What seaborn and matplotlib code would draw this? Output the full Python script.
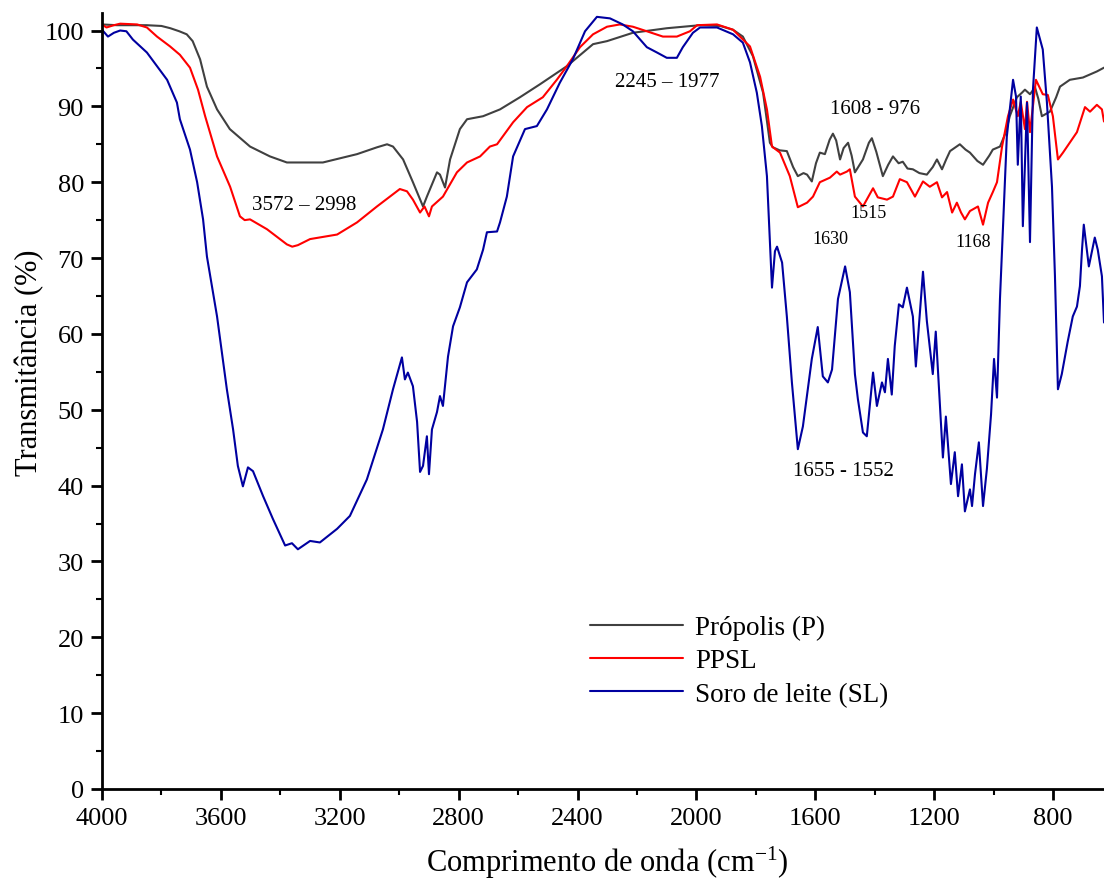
import matplotlib
matplotlib.use("Agg")
import matplotlib.pyplot as plt
import numpy as np
import pandas as pd
import seaborn as sns
from matplotlib.ticker import MultipleLocator

# ---------------- data ----------------
P_wn = [4000, 3950, 3900, 3850, 3800, 3770, 3740, 3715, 3695, 3670, 3647, 3613, 3570, 3502, 3435,
        3378, 3257, 3142, 3075, 3041, 3021, 2987, 2954, 2920, 2907, 2873, 2863, 2846, 2829, 2796,
        2772, 2718, 2661, 2594, 2527, 2436, 2348, 2301, 2214, 2100, 1988, 1920, 1877, 1844, 1810,
        1776, 1753, 1743, 1720, 1696, 1675, 1659, 1640, 1628, 1612, 1598, 1585, 1568, 1552, 1541,
        1530, 1517, 1505, 1490, 1478, 1467, 1440, 1420, 1410, 1395, 1373, 1355, 1339, 1320, 1306,
        1290, 1272, 1250, 1225, 1205, 1191, 1174, 1160, 1147, 1114, 1095, 1080, 1055, 1036, 1015,
        1003, 979, 960, 946, 922, 905, 895, 878, 861, 850, 838, 811, 790, 777, 744, 700, 653, 629]
P_T = [100.8, 100.7, 100.7, 100.7, 100.6, 100.3, 99.9, 99.5, 98.6, 96.2, 92.6, 89.6, 87.0, 84.7, 83.4,
       82.6, 82.6, 83.7, 84.6, 85.0, 84.7, 83.0, 80.0, 76.8, 78.1, 81.3, 81.0, 79.3, 83.0, 87.0,
       88.3, 88.7, 89.6, 91.2, 92.9, 95.3, 98.2, 98.6, 99.7, 100.3, 100.7, 100.6, 100.1, 99.2, 96.6,
       91.8, 85.2, 84.6, 84.2, 84.1, 82.0, 80.8, 81.2, 81.0, 80.1, 82.5, 83.9, 83.7, 85.6, 86.4,
       85.5, 83.0, 84.5, 85.2, 83.5, 81.3, 83.0, 85.2, 85.8, 84.0, 80.8, 82.3, 83.4, 82.5, 82.7,
       81.8, 81.7, 81.2, 81.0, 82.0, 83.0, 81.7, 83.0, 84.1, 85.0, 84.3, 83.9, 82.8, 82.3, 83.5,
       84.3, 84.7, 86.5, 88.7, 91.2, 91.8, 92.2, 91.6, 92.5, 91.0, 88.7, 89.3, 91.2, 92.6, 93.5, 93.8, 94.6, 95.1]

PPSL_wn = [4000, 3985, 3960, 3939, 3882, 3849, 3815, 3771, 3738, 3704, 3677, 3653, 3613, 3569, 3536,
           3520, 3502, 3445, 3378, 3360, 3341, 3300, 3209, 3142, 3075, 2998, 2974, 2954, 2930, 2915,
           2900, 2890, 2853, 2806, 2772, 2728, 2695, 2671, 2617, 2570, 2517, 2470, 2436, 2392, 2348,
           2301, 2258, 2214, 2167, 2113, 2066, 2022, 1998, 1931, 1877, 1820, 1786, 1763, 1746, 1719,
           1686, 1659, 1628, 1608, 1585, 1551, 1528, 1517, 1494, 1484, 1467, 1440, 1406, 1390, 1359,
           1339, 1316, 1292, 1265, 1238, 1215, 1191, 1174, 1157, 1140, 1124, 1110, 1097, 1080, 1053,
           1036, 1019, 1003, 989, 972, 952, 935, 919, 909, 895, 888, 878, 858, 835, 818, 801, 784,
           767, 720, 693, 676, 653, 636, 629]
PPSL_T = [100.8, 100.4, 100.7, 100.9, 100.8, 100.4, 99.2, 97.9, 96.8, 95.1, 92.2, 88.7, 83.4, 79.4, 75.5,
          75.0, 75.1, 73.8, 71.8, 71.5, 71.7, 72.5, 73.1, 74.7, 76.8, 79.1, 78.8, 77.7, 76.0, 76.8,
          75.5, 76.8, 78.1, 81.3, 82.6, 83.4, 84.7, 85.0, 87.9, 89.9, 91.2, 93.5, 95.3, 97.8, 99.5,
          100.5, 100.8, 100.5, 99.9, 99.2, 99.2, 99.9, 100.7, 100.8, 100.1, 97.9, 93.9, 89.6, 84.7, 83.9,
          80.8, 76.7, 77.3, 78.1, 80.0, 80.6, 81.4, 81.0, 81.4, 81.7, 78.1, 76.8, 79.2, 78.0, 77.7,
          78.1, 80.4, 80.0, 78.1, 80.1, 79.4, 80.0, 78.0, 78.7, 76.0, 77.3, 76.0, 75.1, 76.2, 76.8,
          74.4, 77.3, 78.7, 80.0, 84.7, 88.7, 90.9, 88.7, 90.6, 87.0, 90.6, 86.6, 93.5, 91.6, 91.5, 88.7, 83.0,
          83.9, 86.6, 89.9, 89.3, 90.2, 89.6, 88.0]

SL_wn = [4000, 3980, 3960, 3939, 3918, 3896, 3849, 3815, 3781, 3748, 3738, 3704, 3680, 3660, 3647,
         3613, 3580, 3559, 3543, 3526, 3509, 3492, 3458, 3425, 3384, 3361, 3341, 3300, 3267, 3209,
         3166, 3109, 3055, 3021, 2991, 2981, 2971, 2954, 2940, 2930, 2920, 2907, 2900, 2890, 2873,
         2863, 2853, 2836, 2819, 2796, 2772, 2739, 2718, 2705, 2671, 2661, 2638, 2617, 2577, 2537,
         2503, 2460, 2416, 2375, 2335, 2291, 2248, 2214, 2167, 2133, 2100, 2066, 2046, 2012, 1988,
         1931, 1877, 1844, 1820, 1797, 1780, 1763, 1753, 1746, 1736, 1729, 1712, 1696, 1679, 1659,
         1642, 1612, 1592, 1575, 1558, 1544, 1524, 1500, 1484, 1467, 1457, 1440, 1427, 1406, 1393,
         1376, 1366, 1356, 1343, 1333, 1319, 1306, 1292, 1272, 1262, 1238, 1225, 1205, 1195, 1182,
         1171, 1161, 1144, 1131, 1120, 1107, 1097, 1080, 1073, 1063, 1050, 1036, 1023, 1009, 999,
         989, 979, 972, 956, 935, 925, 919, 909, 902, 888, 878, 868, 855, 841, 835, 821, 804, 794,
         784, 771, 751, 734, 720, 710, 703, 697, 680, 660, 650, 636, 629]
SL_T = [100.1, 99.2, 99.7, 100.0, 99.9, 98.8, 97.1, 95.3, 93.5, 90.5, 88.3, 84.3, 80.0, 75.1, 70.2,
        62.3, 52.7, 47.4, 42.6, 39.9, 42.4, 41.9, 38.6, 35.6, 32.1, 32.4, 31.6, 32.7, 32.5, 34.3,
        36.0, 40.8, 47.4, 52.7, 56.9, 54.0, 54.9, 53.1, 48.4, 41.8, 42.6, 46.5, 41.5, 47.4, 49.7,
        51.8, 50.5, 57.0, 61.0, 63.5, 66.8, 68.5, 71.1, 73.4, 73.5, 74.7, 78.1, 83.4, 87.0, 87.4,
        89.6, 93.1, 96.2, 99.9, 101.8, 101.6, 100.8, 99.9, 97.8, 97.1, 96.4, 96.4, 97.8, 99.7, 100.4,
        100.4, 99.5, 98.4, 95.8, 91.8, 87.4, 80.8, 72.1, 66.1, 70.9, 71.5, 69.4, 62.3, 53.6, 44.8,
        47.8, 56.7, 60.9, 54.4, 53.6, 55.3, 64.6, 68.9, 65.5, 54.7, 51.4, 47.0, 46.5, 54.9, 50.5,
        53.6, 52.3, 56.7, 52.0, 58.4, 63.9, 63.5, 66.1, 62.3, 55.7, 68.2, 61.7, 54.7, 60.3, 51.4,
        43.7, 49.1, 40.2, 44.4, 38.6, 42.8, 36.6, 39.5, 37.3, 41.5, 45.7, 37.3, 42.2, 49.4, 56.7,
        51.6, 64.6, 71.1, 86.0, 93.5, 91.3, 82.3, 91.3, 74.2, 90.5, 72.1, 92.2, 100.4, 98.4, 97.5, 90.5, 79.4, 67.6,
        52.7, 54.7, 59.0, 62.3, 63.6, 66.3, 71.1, 74.4, 68.9, 72.7, 71.1, 67.6, 61.5]

series_names = ["Própolis (P)", "PPSL", "Soro de leite (SL)"]
series_colors = ["#404040", "#ff0000", "#0000a0"]

ann_text = ["3572 – 2998", "2245 – 1977", "1608 - 976", "1515", "1630", "1168", "1655 - 1552"]
ann_x = [3320, 2099, 1400, 1420, 1548, 1070, 1504]
ann_y = [77.1, 93.3, 89.7, 76.0, 72.6, 72.2, 42.0]
ann_size = [15, 15, 15, 13, 13, 13, 15]

# ---------------- build long table ----------------
df = pd.concat([
    pd.DataFrame({"wn": P_wn, "T": P_T, "amostra": series_names[0]}),
    pd.DataFrame({"wn": PPSL_wn, "T": PPSL_T, "amostra": series_names[1]}),
    pd.DataFrame({"wn": SL_wn, "T": SL_T, "amostra": series_names[2]}),
], ignore_index=True)

sns.set_style("ticks")
plt.rcParams["font.family"] = ["Liberation Serif", "DejaVu Serif"]
plt.rcParams["mathtext.fontset"] = "custom"
plt.rcParams["mathtext.rm"] = "Liberation Serif"
plt.rcParams["mathtext.it"] = "Liberation Serif:italic"
plt.rcParams["text.color"] = "black"
plt.rcParams["axes.labelcolor"] = "black"
plt.rcParams["legend.labelcolor"] = "black"

fig = plt.figure(figsize=(11.04, 8.79), dpi=100)
ax = fig.add_axes([0.0924, 0.1013, 0.9076, 0.8827])

sns.lineplot(data=df, x="wn", y="T", hue="amostra", hue_order=series_names,
             palette=dict(zip(series_names, series_colors)), estimator=None, sort=False,
             linewidth=1.5, ax=ax, legend=False)

ax.set_xlim(4000, 629)
ax.set_ylim(0, 102.3)
ax.xaxis.set_major_locator(MultipleLocator(400))
ax.xaxis.set_minor_locator(MultipleLocator(200))
ax.yaxis.set_major_locator(MultipleLocator(10))
ax.yaxis.set_minor_locator(MultipleLocator(5))

for side in ["top", "right"]:
    ax.spines[side].set_visible(False)
for side in ["left", "bottom"]:
    ax.spines[side].set_linewidth(2)
    ax.spines[side].set_color("black")

ax.tick_params(axis="both", which="major", direction="out", length=8, width=2,
               labelsize=19, colors="black", pad=5)
ax.tick_params(axis="both", which="minor", direction="out", length=4, width=1.5, colors="black")

ax.set_xlabel("Comprimento de onda (cm$^{\\mathregular{-1}}$)", fontsize=22, color="black")
ax.set_ylabel("Transmitância (%)", fontsize=22, color="black")
ax.xaxis.set_label_coords(0.504, -0.071)
ax.yaxis.set_label_coords(-0.058, 0.55)

for t, x, y, s in zip(ann_text, ann_x, ann_y, ann_size):
    ax.text(x, y, t, fontsize=s, ha="center", va="center", color="black")

ax.legend(handles=ax.lines[:3], labels=series_names, loc="center left",
          bbox_to_anchor=(0.487, 0.165), frameon=False, fontsize=19.5,
          handlelength=3.44, handletextpad=0.45, labelspacing=0.3,
          borderpad=0, borderaxespad=0)

fig.savefig("out.png", dpi=100)
